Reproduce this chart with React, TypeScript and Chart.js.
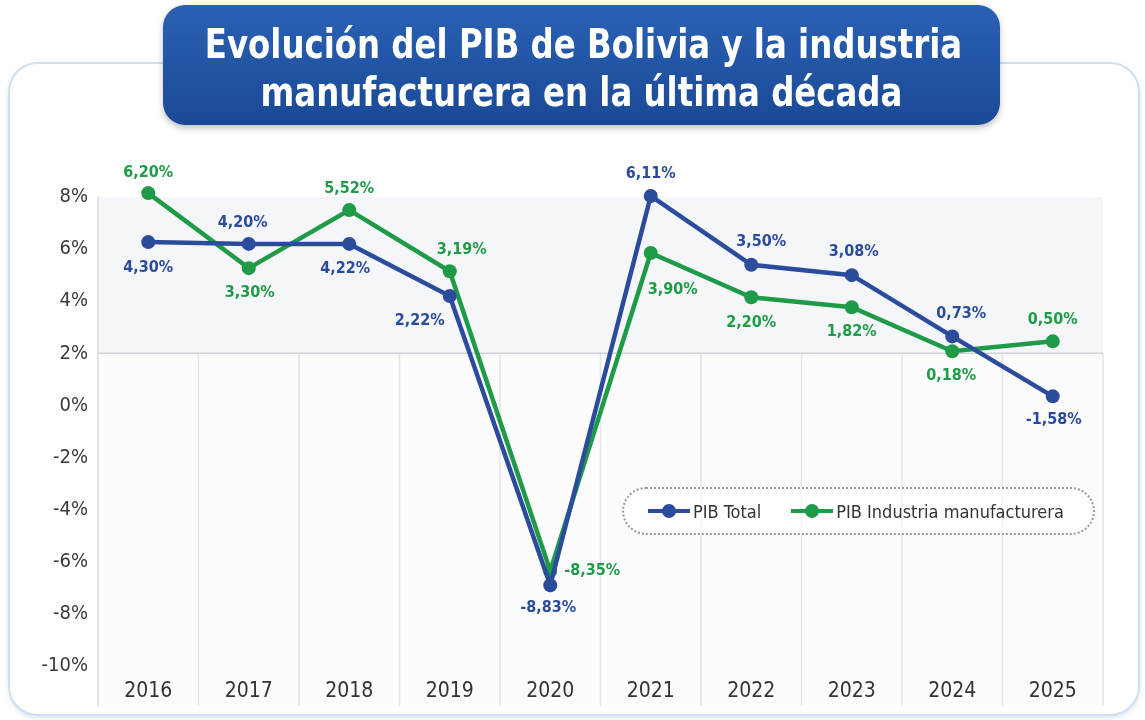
import React, { useEffect, useRef } from "react";
import { Chart, registerables } from "chart.js";

Chart.register(...registerables);

// ---- data ----
const years = ["2016", "2017", "2018", "2019", "2020", "2021", "2022", "2023", "2024", "2025"];
const pibTotal = [6.27, 6.2, 6.2, 4.2, -6.9, 8.04, 5.4, 5.0, 2.65, 0.35];
const pibManuf = [8.15, 5.27, 7.5, 5.15, -6.35, 5.85, 4.15, 3.77, 2.08, 2.46];
const pibTotalLabels = ["4,30%", "4,20%", "4,22%", "2,22%", "-8,83%", "6,11%", "3,50%", "3,08%", "0,73%", "-1,58%"];
const pibManufLabels = ["6,20%", "3,30%", "5,52%", "3,19%", "-8,35%", "3,90%", "2,20%", "1,82%", "0,18%", "0,50%"];
const seriesNames = ["PIB Total", "PIB Industria manufacturera"];
const titleLines = ["Evolución del PIB de Bolivia y la industria", "manufacturera en la última década"];

// ---- styles ----
const BLUE = "#2b4c9c";
const GREEN = "#1f9b48";
const FONT = "'DejaVu Sans Condensed', 'Roboto', sans-serif";

// label placement (offsets from point, in px)
const totalPlace = [
  { dx: 0, dy: 26 }, { dx: -6, dy: -21 }, { dx: -4, dy: 25 }, { dx: -30, dy: 25 }, { dx: -2, dy: 23 },
  { dx: 0, dy: -22 }, { dx: 10, dy: -23 }, { dx: 2, dy: -23 }, { dx: 9, dy: -23 }, { dx: 1, dy: 24 },
];
const manufPlace = [
  { dx: 0, dy: -20 }, { dx: 1, dy: 25 }, { dx: 0, dy: -21 }, { dx: 12, dy: -21 }, { dx: 14, dy: 0, align: "left" },
  { dx: 22, dy: 37 }, { dx: 0, dy: 26 }, { dx: 0, dy: 25 }, { dx: -1, dy: 25 }, { dx: 0, dy: -22 },
];

const bgPlugin = {
  id: "bgPlugin",
  beforeDraw(chart: any) {
    const { ctx, chartArea } = chart;
    const xs = chart.scales.x;
    const ys = chart.scales.y;
    const bottom = chart.height - 14;
    const yBand = ys.getPixelForValue(2);
    ctx.save();
    ctx.fillStyle = "#f5f6f9";
    ctx.fillRect(chartArea.left, chartArea.top, chartArea.right - chartArea.left, yBand - chartArea.top);
    ctx.fillStyle = "#fcfcfd";
    ctx.fillRect(chartArea.left, yBand, chartArea.right - chartArea.left, bottom - yBand);
    ctx.strokeStyle = "#e3e5ea";
    ctx.lineWidth = 1.5;
    const n = years.length;
    for (let i = 1; i < n; i++) {
      const bx = (xs.getPixelForValue(i - 1) + xs.getPixelForValue(i)) / 2;
      ctx.beginPath();
      ctx.moveTo(bx, yBand);
      ctx.lineTo(bx, bottom);
      ctx.stroke();
    }
    ctx.beginPath();
    ctx.moveTo(chartArea.right, yBand);
    ctx.lineTo(chartArea.right, bottom);
    ctx.stroke();
    ctx.strokeStyle = "#d8dbe1";
    ctx.beginPath();
    ctx.moveTo(chartArea.left, chartArea.top);
    ctx.lineTo(chartArea.left, bottom);
    ctx.stroke();
    ctx.strokeStyle = "#cfd2d8";
    ctx.beginPath();
    ctx.moveTo(chartArea.left, yBand);
    ctx.lineTo(chartArea.right, yBand);
    ctx.stroke();
    ctx.restore();
  },
};

const labelPlugin = {
  id: "labelPlugin",
  afterDatasetsDraw(chart: any) {
    const { ctx } = chart;
    const sets = [
      { labels: pibTotalLabels, place: totalPlace, color: BLUE },
      { labels: pibManufLabels, place: manufPlace, color: GREEN },
    ];
    ctx.save();
    ctx.font = `bold 16px ${FONT}`;
    ctx.textBaseline = "middle";
    sets.forEach((s, di) => {
      const meta = chart.getDatasetMeta(di);
      meta.data.forEach((pt: any, i: number) => {
        const p: any = s.place[i];
        ctx.textAlign = p.align || "center";
        ctx.fillStyle = s.color;
        ctx.fillText(s.labels[i], pt.x + p.dx, pt.y + p.dy);
      });
    });
    ctx.restore();
  },
};

function LegendMarker({ color }: { color: string }) {
  return (
    <span style={{ position: "relative", display: "inline-block", width: 42, height: 16, marginRight: 3 }}>
      <span style={{ position: "absolute", left: 0, right: 0, top: 6, height: 4, background: color }} />
      <span style={{ position: "absolute", left: 14, top: 1, width: 14, height: 14, borderRadius: 7, background: color }} />
    </span>
  );
}

const titleLineStyle: React.CSSProperties = {
  whiteSpace: "nowrap",
  display: "block",
  transform: "scaleX(0.9)",
  transformOrigin: "center",
};

export default function App() {
  const ref = useRef<HTMLCanvasElement | null>(null);
  useEffect(() => {
    if (!ref.current) return;
    const chart = new Chart(ref.current, {
      type: "line",
      data: {
        labels: years,
        datasets: [
          {
            label: seriesNames[0],
            data: pibTotal,
            borderColor: BLUE,
            backgroundColor: BLUE,
            borderWidth: 4.5,
            pointRadius: 7,
            pointBorderWidth: 0,
            pointBackgroundColor: BLUE,
            tension: 0,
            clip: false as any,
          },
          {
            label: seriesNames[1],
            data: pibManuf,
            borderColor: GREEN,
            backgroundColor: GREEN,
            borderWidth: 4.5,
            pointRadius: 7,
            pointBorderWidth: 0,
            pointBackgroundColor: GREEN,
            tension: 0,
            clip: false as any,
          },
        ],
      },
      options: {
        animation: false,
        responsive: false,
        maintainAspectRatio: false,
        layout: { padding: { left: 30, right: 42, top: 197, bottom: 0 } },
        plugins: { legend: { display: false }, tooltip: { enabled: false } },
        scales: {
          x: {
            type: "category",
            offset: true,
            grid: { display: false, drawTicks: false },
            border: { display: false },
            ticks: { color: "#333", font: { family: FONT, size: 21 }, padding: 13 },
            afterFit(s: any) {
              s.height = 54;
            },
          },
          y: {
            min: -10,
            max: 8,
            grid: { display: false, drawTicks: false },
            border: { display: false },
            ticks: {
              stepSize: 2,
              color: "#3a3a3a",
              font: { family: FONT, size: 20 },
              padding: 10,
              callback: (v: any) => `${v}%`,
            },
            afterFit(s: any) {
              s.width = 68;
            },
          },
        },
      },
      plugins: [bgPlugin, labelPlugin],
    });
    return () => chart.destroy();
  }, []);

  return (
    <div style={{ position: "absolute", left: 0, top: 0, width: 1145, height: 720, background: "#fff", overflow: "hidden" }}>
      <div
        style={{
          position: "absolute",
          left: 8,
          top: 62,
          width: 1128,
          height: 650,
          border: "2px solid #cfe0f1",
          borderRadius: 30,
          boxShadow: "0 2px 4px rgba(120,150,190,0.25)",
          background: "#fff",
        }}
      />
      <canvas ref={ref} width={1145} height={720} style={{ position: "absolute", left: 0, top: 0, width: 1145, height: 720 }} />
      <div
        style={{
          position: "absolute",
          left: 163,
          top: 5,
          width: 837,
          height: 120,
          borderRadius: 22,
          background: "linear-gradient(#2a61b4, #1a4996)",
          boxShadow: "0 3px 6px rgba(0,0,0,0.25)",
          color: "#fff",
          fontFamily: FONT,
          fontWeight: "bold",
          fontSize: 40,
          lineHeight: "48px",
          textAlign: "center",
          paddingTop: 15,
          boxSizing: "border-box",
        }}
      >
        <span style={titleLineStyle}>{titleLines[0]}</span>
        <span style={titleLineStyle}>{titleLines[1]}</span>
      </div>
      <div
        style={{
          position: "absolute",
          left: 622,
          top: 487,
          width: 473,
          height: 48,
          border: "2px dotted #9a9a9a",
          borderRadius: 24,
          boxSizing: "border-box",
          display: "flex",
          alignItems: "center",
          paddingLeft: 24,
          fontFamily: FONT,
          fontSize: 18,
          color: "#333",
          background: "rgba(255,255,255,0.6)",
        }}
      >
        <LegendMarker color={BLUE} />
        <span style={{ marginRight: 30 }}>{seriesNames[0]}</span>
        <LegendMarker color={GREEN} />
        <span>{seriesNames[1]}</span>
      </div>
    </div>
  );
}
